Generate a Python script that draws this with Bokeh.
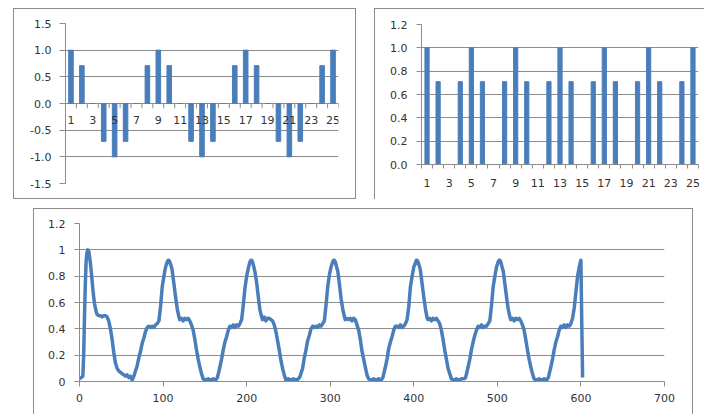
from bokeh.plotting import figure
from bokeh.models import FixedTicker, NumeralTickFormatter, CustomJSTickFormatter, Range1d, Spacer
from bokeh.core.properties import value
from bokeh.layouts import row, column
from bokeh.embed import file_html
from bokeh.resources import INLINE

# ---------------- data ----------------
categories = [1, 2, 3, 4, 5, 6, 7, 8, 9, 10, 11, 12, 13, 14, 15, 16, 17, 18, 19, 20, 21, 22, 23, 24, 25]
category_labels = [1, 3, 5, 7, 9, 11, 13, 15, 17, 19, 21, 23, 25]
signed_values = [1.0, 0.71, 0.0, -0.71, -1.0, -0.71, 0.0, 0.71, 1.0, 0.71, 0.0, -0.71, -1.0,
                 -0.71, 0.0, 0.71, 1.0, 0.71, 0.0, -0.71, -1.0, -0.71, 0.0, 0.71, 1.0]
magnitude_values = [1.0, 0.71, 0.0, 0.71, 1.0, 0.71, 0.0, 0.71, 1.0, 0.71, 0.0, 0.71, 1.0,
                    0.71, 0.0, 0.71, 1.0, 0.71, 0.0, 0.71, 1.0, 0.71, 0.0, 0.71, 1.0]

left_yticks = [-1.5, -1.0, -0.5, 0.0, 0.5, 1.0, 1.5]
right_yticks = [0.0, 0.2, 0.4, 0.6, 0.8, 1.0, 1.2]
bottom_yticks = [0, 0.2, 0.4, 0.6, 0.8, 1.0, 1.2]
bottom_xticks = [0, 100, 200, 300, 400, 500, 600, 700]

seg0_x = [0, 2, 4, 5, 6, 7, 8, 9, 10, 11, 12, 13, 14, 15, 16, 17, 18, 19, 20, 21, 23, 25, 27, 29,
          31, 33, 35, 37, 39, 41, 43, 45, 47, 49, 51, 53, 55, 57, 59, 61, 63, 65, 67, 69, 71, 73,
          75, 77, 79, 81, 83, 85, 87, 89, 91, 93]
seg0_y = [0.02, 0.03, 0.04, 0.2, 0.5, 0.75, 0.92, 0.98, 1.0, 0.99, 0.95, 0.9, 0.84, 0.77, 0.7,
          0.64, 0.59, 0.56, 0.53, 0.51, 0.5, 0.5, 0.49, 0.5, 0.5, 0.49, 0.46, 0.4, 0.32, 0.22,
          0.14, 0.1, 0.08, 0.07, 0.06, 0.05, 0.04, 0.05, 0.03, 0.04, 0.01, 0.04, 0.08, 0.12,
          0.18, 0.23, 0.29, 0.33, 0.38, 0.41, 0.42, 0.41, 0.42, 0.41, 0.43, 0.44]

seg1_x = [95, 97, 99, 101, 103, 105, 106, 107, 108, 110, 111, 113, 115, 117, 119, 120, 122, 124,
          126, 128, 130, 132, 134, 136, 138, 140, 142, 144, 146, 148, 151, 154, 157, 160, 163,
          165, 168, 170, 172, 174, 176, 178, 180, 182, 184, 186, 188, 190, 192]
seg1_y = [0.46, 0.57, 0.72, 0.80, 0.87, 0.91, 0.92, 0.92, 0.91, 0.87, 0.84, 0.74, 0.64, 0.55,
          0.49, 0.47, 0.48, 0.46, 0.48, 0.47, 0.48, 0.46, 0.43, 0.39, 0.32, 0.24, 0.17, 0.11,
          0.06, 0.02, 0.01, 0.02, 0.01, 0.02, 0.01, 0.03, 0.11, 0.17, 0.24, 0.30, 0.34, 0.39,
          0.42, 0.41, 0.43, 0.41, 0.43, 0.42, 0.44]

seg2_x = [194, 196, 198, 200, 202, 204, 205, 206, 207, 209, 210, 212, 214, 216, 218, 219, 221,
          223, 225, 227, 229, 231, 233, 235, 237, 239, 241, 243, 245, 247, 250, 253, 256, 259,
          262, 264, 267, 269, 271, 273, 275, 277, 279, 281, 283, 285, 287, 289, 291]
seg2_y = [0.47, 0.58, 0.71, 0.80, 0.86, 0.91, 0.92, 0.92, 0.91, 0.86, 0.83, 0.75, 0.64, 0.54,
          0.49, 0.47, 0.49, 0.46, 0.48, 0.48, 0.47, 0.46, 0.43, 0.38, 0.31, 0.24, 0.16, 0.10,
          0.05, 0.01, 0.02, 0.01, 0.02, 0.01, 0.02, 0.04, 0.10, 0.18, 0.24, 0.31, 0.35, 0.40,
          0.42, 0.41, 0.42, 0.41, 0.43, 0.42, 0.44]

seg3_x = [293, 295, 297, 299, 301, 303, 304, 305, 306, 308, 309, 311, 313, 315, 317, 318, 320,
          322, 324, 326, 328, 330, 332, 334, 336, 338, 340, 342, 344, 346, 349, 352, 355, 358,
          361, 363, 366, 368, 370, 372, 374, 376, 378, 380, 382, 384, 386, 388, 390]
seg3_y = [0.46, 0.58, 0.72, 0.81, 0.87, 0.91, 0.92, 0.92, 0.91, 0.86, 0.84, 0.74, 0.63, 0.55,
          0.49, 0.47, 0.48, 0.47, 0.48, 0.46, 0.48, 0.47, 0.43, 0.39, 0.32, 0.23, 0.17, 0.11,
          0.05, 0.02, 0.01, 0.02, 0.01, 0.02, 0.01, 0.03, 0.11, 0.17, 0.25, 0.30, 0.34, 0.39,
          0.42, 0.42, 0.41, 0.43, 0.41, 0.42, 0.44]

seg4_x = [392, 394, 396, 398, 400, 402, 403, 404, 405, 407, 408, 410, 412, 414, 416, 417, 419,
          421, 423, 425, 427, 429, 431, 433, 435, 437, 439, 441, 443, 445, 448, 451, 454, 457,
          460, 462, 465, 467, 469, 471, 473, 475, 477, 479, 481, 483, 485, 487, 489]
seg4_y = [0.47, 0.57, 0.72, 0.80, 0.87, 0.90, 0.92, 0.92, 0.91, 0.87, 0.84, 0.74, 0.64, 0.55,
          0.48, 0.47, 0.48, 0.46, 0.48, 0.47, 0.48, 0.46, 0.44, 0.39, 0.32, 0.24, 0.17, 0.10,
          0.06, 0.02, 0.01, 0.02, 0.01, 0.02, 0.02, 0.03, 0.11, 0.17, 0.24, 0.30, 0.35, 0.39,
          0.42, 0.41, 0.43, 0.41, 0.42, 0.42, 0.44]

seg5_x = [491, 493, 495, 497, 499, 501, 502, 503, 504, 506, 507, 509, 511, 513, 515, 516, 518,
          520, 522, 524, 526, 528, 530, 532, 534, 536, 538, 540, 542, 544, 547, 550, 553, 556,
          559, 561, 564, 566, 568, 570, 572, 574, 576, 578, 580, 582, 584, 586, 588]
seg5_y = [0.46, 0.58, 0.72, 0.80, 0.87, 0.91, 0.92, 0.92, 0.91, 0.86, 0.84, 0.74, 0.64, 0.55,
          0.49, 0.47, 0.48, 0.46, 0.48, 0.47, 0.48, 0.46, 0.43, 0.39, 0.32, 0.24, 0.17, 0.11,
          0.06, 0.02, 0.01, 0.02, 0.01, 0.02, 0.01, 0.03, 0.11, 0.17, 0.24, 0.30, 0.34, 0.39,
          0.42, 0.41, 0.43, 0.41, 0.43, 0.42, 0.44]

seg6_x = [590, 592, 594, 596, 598, 599, 600, 601, 602]
seg6_y = [0.48, 0.56, 0.68, 0.80, 0.87, 0.90, 0.92, 0.45, 0.03]

signal_x = seg0_x + seg1_x + seg2_x + seg3_x + seg4_x + seg5_x + seg6_x
signal_y = seg0_y + seg1_y + seg2_y + seg3_y + seg4_y + seg5_y + seg6_y

# ---------------- style ----------------
FONT = "DejaVu Sans"
TEXT = "#333333"
GRID = "#8c8c8c"
BLUE = "#4a7ebb"
FRAME = "#8c8c8c"


def style(p):
    p.background_fill_color = "white"
    p.border_fill_color = None
    p.outline_line_color = None
    p.xgrid.grid_line_color = None
    p.ygrid.grid_line_color = GRID
    p.ygrid.grid_line_width = 1
    for ax in p.axis:
        ax.axis_line_color = GRID
        ax.major_tick_line_color = GRID
        ax.minor_tick_line_color = GRID
        ax.major_label_text_font = FONT
        ax.major_label_text_font_size = "11px"
        ax.major_label_text_color = TEXT
        ax.major_tick_in = 0
        ax.minor_tick_in = 0
        ax.minor_tick_out = 0


boundaries = [c - 0.5 for c in categories] + [categories[-1] + 0.5]

# ---- top-left: signed bars (category axis drawn through zero) ----
p1 = figure(width=343, height=191, x_range=Range1d(0.5, 25.5), y_range=Range1d(-1.5, 1.5),
            x_axis_location=None,
            min_border_left=52, min_border_right=18, min_border_top=15, min_border_bottom=16,
            output_backend="svg", toolbar_location=None,
            styles={"box-shadow": "inset 0 0 0 1px " + FRAME})
p1.vbar(x=categories, top=signed_values, width=0.42, color=BLUE)
style(p1)
TICK_LEN = 0.09  # short tick marks below the zero line, in data units (~5px)
p1.segment(x0=boundaries, y0=[0] * len(boundaries), x1=boundaries,
           y1=[-TICK_LEN] * len(boundaries), line_color=GRID, line_width=1)
p1.text(x=category_labels, y=[0] * len(category_labels),
        text=[str(c) for c in category_labels], text_align="center", text_baseline="top",
        y_offset=12, text_font=value(FONT), text_font_size="11px", text_color=TEXT)
p1.yaxis.ticker = FixedTicker(ticks=left_yticks)
p1.yaxis.formatter = NumeralTickFormatter(format="0.0")
p1.yaxis.major_tick_out = 6
p1.yaxis.major_label_standoff = 8
p1.ygrid.ticker = FixedTicker(ticks=left_yticks)

# ---- top-right: magnitude bars ----
p2 = figure(width=330, height=191, x_range=Range1d(0.5, 25.5), y_range=Range1d(0, 1.2),
            min_border_left=47, min_border_right=6, min_border_top=16, min_border_bottom=35,
            output_backend="svg", toolbar_location=None,
            styles={"box-shadow": "inset 1px 1px 0 0 " + FRAME})
p2.vbar(x=categories, top=magnitude_values, width=0.38, color=BLUE)
style(p2)
p2.xaxis.ticker = FixedTicker(ticks=category_labels, minor_ticks=boundaries)
p2.xaxis.major_tick_line_color = None
p2.xaxis.major_tick_out = 0
p2.xaxis.minor_tick_out = 4
p2.xaxis.major_label_standoff = 10
p2.yaxis.ticker = FixedTicker(ticks=right_yticks)
p2.yaxis.formatter = NumeralTickFormatter(format="0.0")
p2.yaxis.major_tick_out = 5
p2.yaxis.major_label_standoff = 9

# ---- bottom: signal line ----
p3 = figure(width=660, height=206, x_range=Range1d(0, 700), y_range=Range1d(0, 1.2),
            min_border_left=46, min_border_right=29, min_border_top=15, min_border_bottom=33,
            output_backend="svg", toolbar_location=None,
            styles={"box-shadow": "inset 1px 1px 0 0 " + FRAME + ", inset -1px 0 0 0 " + FRAME})
p3.line(signal_x, signal_y, line_width=3.5, color=BLUE, line_join="round")
style(p3)
p3.xaxis.ticker = FixedTicker(ticks=bottom_xticks)
p3.xaxis.major_tick_out = 5
p3.xaxis.major_label_standoff = 7
p3.yaxis.ticker = FixedTicker(ticks=bottom_yticks)
p3.yaxis.formatter = CustomJSTickFormatter(code="return String(Math.round(tick * 10) / 10);")
p3.yaxis.major_tick_out = 5
p3.yaxis.major_label_standoff = 9

# each chart sits in its own column so that the row does not align their frames
layout = column(
    Spacer(width=10, height=8),
    row(Spacer(width=13, height=191), column(p1), Spacer(width=18, height=191), column(p2)),
    Spacer(width=10, height=9),
    row(Spacer(width=33, height=206), column(p3)),
)

open("out.html", "w").write(file_html(layout, INLINE))
